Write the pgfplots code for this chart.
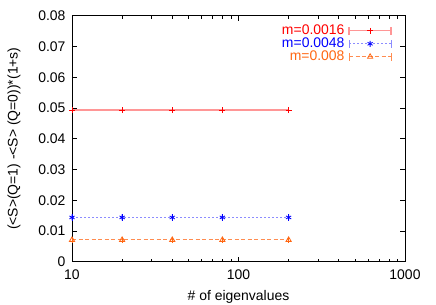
\documentclass[border=0pt]{standalone}
\usepackage{fontspec}
\setmainfont{Liberation Sans}
\usepackage{pgfplots}
\pgfplotsset{compat=1.18}
\definecolor{cred}{RGB}{255,0,0}
\definecolor{credl}{RGB}{255,150,150}
\definecolor{cblue}{RGB}{0,0,255}
\definecolor{cbluel}{RGB}{140,140,255}
\definecolor{corange}{RGB}{255,102,17}
\definecolor{corangel}{RGB}{255,140,80}
\begin{document}
\begin{tikzpicture}
\path[use as bounding box] (-72bp,-43.3bp) rectangle (364bp,261.7bp);
\begin{axis}[
  at={(0,0)}, anchor=south west,
  scale only axis, width=333bp, height=246bp,
  xmode=log, xmin=10, xmax=1000,
  ymin=0, ymax=0.08,
  scaled y ticks=false,
  /pgf/number format/assume math mode=true,
  xtick={10,100,1000}, xticklabels={10,100,1000},
  ytick={0,0.01,0.02,0.03,0.04,0.05,0.06,0.07,0.08},
  yticklabels={0,0.01,0.02,0.03,0.04,0.05,0.06,0.07,0.08},
  tick align=inside, major tick length=5bp, minor tick length=3bp,
  axis line style={line width=0.9pt},
  every tick/.style={black, line width=0.6pt},
  font=\fontsize{14}{16}\selectfont,
  tick label style={font=\fontsize{14}{16}\selectfont},
  xticklabel style={yshift=-5bp},
  yticklabel style={xshift=-3bp},
  xlabel={\# of eigenvalues},
  ylabel={(<S>(Q=1) -<S> (Q=0))*(1+s)},
  xlabel style={at={(axis description cs:0.5,0)}, anchor=center, yshift=-35bp},
  ylabel style={at={(axis description cs:-0.174,0.5)}, anchor=center},
  legend plot pos=right,
  legend cell align=right,
  legend style={draw=none, fill=none, at={(rel axis cs:0.961,0.965)}, anchor=north east,
    inner sep=0pt, row sep=0.5bp,
    nodes={inner sep=0pt, text height=10bp, text depth=2.5bp, font=\fontsize{14}{16}\selectfont},
    column sep=4bp},
  legend image code/.code={
    \draw[#1,mark=none] (0bp,0bp) -- (42bp,0bp);
    \draw[#1,mark=none,solid] (0bp,-4bp) -- (0bp,4bp) (42bp,-4bp) -- (42bp,4bp);
    \draw[#1,only marks] plot coordinates {(21bp,0bp)};
  },
]
\addplot[color=credl, line width=1.4pt, mark=+, mark size=3pt,
  mark options={cred, solid, line width=0.9pt},
  error bars/.cd, y dir=both, y explicit, error bar style={cred, line width=0.9pt}, error mark options={cred, mark size=2.5pt, line width=0.9pt}]
  coordinates {(10,0.0493) +- (0,0.0002) (20,0.0493) +- (0,0.0002) (40,0.0493) +- (0,0.0002) (80,0.0493) +- (0,0.0002) (200,0.0493) +- (0,0.0002)};
\addlegendentry{\textcolor{cred}{m=0.0016}}
\addplot[color=cbluel, line width=1.2pt, dash pattern=on 1.5bp off 2.5bp, mark=asterisk, mark size=3pt,
  mark options={cblue, solid, line width=0.8pt},
  error bars/.cd, y dir=both, y explicit, error bar style={cblue, solid, line width=0.9pt}, error mark options={cblue, mark size=2.5pt, line width=0.9pt}]
  coordinates {(10,0.0144) +- (0,0.0002) (20,0.0144) +- (0,0.0002) (40,0.0144) +- (0,0.0002) (80,0.0144) +- (0,0.0002) (200,0.0144) +- (0,0.0002)};
\addlegendentry{\textcolor{cblue}{m=0.0048}}
\addplot[color=corangel, line width=0.9pt, dash pattern=on 4bp off 2.5bp, mark=triangle, mark size=3pt,
  mark options={corange, solid, line width=0.8pt},
  error bars/.cd, y dir=both, y explicit, error bar style={corange, solid, line width=0.8pt}, error mark options={corange, mark size=2.5pt, line width=0.8pt}]
  coordinates {(10,0.0071) +- (0,0.0001) (20,0.0071) +- (0,0.0001) (40,0.0071) +- (0,0.0001) (80,0.0071) +- (0,0.0001) (200,0.0071) +- (0,0.0001)};
\addlegendentry{\textcolor{corange}{m=0.008}}
\end{axis}
\end{tikzpicture}
\end{document}
